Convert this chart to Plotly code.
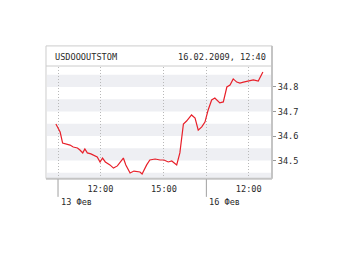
import plotly.graph_objects as go

# ---- data ----
times = [
    "13 09:54", "13 10:06", "13 10:13", "13 10:25", "13 10:34", "13 10:43", "13 10:55",
    "13 11:02", "13 11:10", "13 11:16", "13 11:23", "13 11:33", "13 11:42", "13 11:51",
    "13 11:59", "13 12:06", "13 12:14", "13 12:27", "13 12:37", "13 12:48", "13 13:05",
    "13 13:12", "13 13:24", "13 13:35", "13 13:52", "13 13:58", "13 14:11", "13 14:20",
    "13 14:35", "13 14:49", "13 15:00", "13 15:12", "13 15:22", "13 15:36", "13 15:45",
    "13 15:55", "13 16:04", "13 16:18", "13 16:28", "13 16:37", "13 16:47", "13 16:56",
    "16 10:05", "16 10:15", "16 10:24", "16 10:38", "16 10:48", "16 10:58", "16 11:07",
    "16 11:16", "16 11:26", "16 11:35", "16 11:45", "16 11:59", "16 12:13", "16 12:27",
    "16 12:32", "16 12:40",
]
rates = [
    34.649, 34.616, 34.571, 34.567, 34.563, 34.555, 34.551,
    34.543, 34.531, 34.547, 34.531, 34.527, 34.522, 34.514,
    34.494, 34.510, 34.494, 34.482, 34.469, 34.478, 34.510,
    34.482, 34.449, 34.457, 34.453, 34.445, 34.482, 34.502,
    34.506, 34.502, 34.502, 34.494, 34.498, 34.482, 34.531,
    34.649, 34.661, 34.686, 34.673, 34.624, 34.637, 34.657,
    34.706, 34.747, 34.755, 34.735, 34.739, 34.800, 34.808,
    34.833, 34.820, 34.816, 34.820, 34.824, 34.829, 34.824,
    34.837, 34.861,
]
title_left = "USDOOOUTSTOM"
title_right = "16.02.2009, 12:40"

x_tick_times = ["13 10:00", "13 12:00", "13 15:00", "16 10:00", "16 12:00"]
x_tick_text = ["", "12:00", "15:00", "", "12:00"]
day_starts = ["13 10:00", "16 10:00"]
day_labels = ["13 Фев", "16 Фев"]
y_ticks = [34.5, 34.6, 34.7, 34.8]
y_tick_text = ["34.5", "34.6", "34.7", "34.8"]
bands = [(34.40, 34.45), (34.50, 34.55), (34.60, 34.65), (34.70, 34.75), (34.80, 34.85)]

SESSION_OPEN = 10 * 60
SESSION_LEN = 7 * 60
DAY_ORDER = {"13": 0, "16": 1}


def session_hours(s):
    d, hm = s.split()
    h, m = hm.split(":")
    mins = int(h) * 60 + int(m) - SESSION_OPEN
    return (DAY_ORDER[d] * SESSION_LEN + mins) / 60.0


xs = [session_hours(t) for t in times]
x_ticks = [session_hours(t) for t in x_tick_times]
x_days = [session_hours(t) for t in day_starts]

FONT = "DejaVu Sans Mono"
FS = 8.6
TXT = "#2a2a2a"

fig = go.Figure()
fig.add_trace(go.Scatter(
    x=xs, y=rates, mode="lines",
    line=dict(color="#e8202a", width=1.2),
    hoverinfo="skip", showlegend=False,
))

shapes = []
for lo, hi in bands:
    shapes.append(dict(type="rect", xref="paper", yref="y", x0=0, x1=1, y0=lo, y1=hi,
                       fillcolor="#eeeff3", line=dict(width=0), layer="below"))
# outer frame with header
shapes.append(dict(type="rect", xref="paper", yref="paper", x0=-0.0045, x1=1.0045,
                   y0=-0.005, y1=1.19, line=dict(color="#cccccc", width=1),
                   fillcolor="rgba(0,0,0,0)", layer="above"))
shapes.append(dict(type="line", xref="paper", yref="paper", x0=-0.0045, x1=1.0045,
                   y0=1.009, y1=1.009, line=dict(color="#cccccc", width=1)))
shapes.append(dict(type="line", xref="paper", yref="paper", x0=-0.0045, x1=1.0045,
                   y0=-0.006, y1=-0.006, line=dict(color="#c4c4c4", width=2)))
shapes.append(dict(type="line", xref="paper", yref="paper", x0=1.0045, x1=1.0045,
                   y0=-0.006, y1=1.19, line=dict(color="#c4c4c4", width=2)))
for xd in x_days:
    shapes.append(dict(type="line", xref="x", yref="paper", x0=xd, x1=xd,
                       y0=-0.01, y1=-0.17, line=dict(color="#a0a0a0", width=1)))

annotations = [
    dict(text=title_left, xref="paper", yref="paper", x=0.027, y=1.09,
         xanchor="left", yanchor="middle", showarrow=False,
         font=dict(family=FONT, size=FS, color=TXT)),
    dict(text=title_right, xref="paper", yref="paper", x=0.985, y=1.09,
         xanchor="right", yanchor="middle", showarrow=False,
         font=dict(family=FONT, size=FS, color=TXT)),
]
for xd, lab in zip(x_days, day_labels):
    annotations.append(dict(text=lab, xref="x", yref="paper", x=xd, y=-0.215,
                            xanchor="left", yanchor="middle", xshift=1, showarrow=False,
                            font=dict(family=FONT, size=FS, color=TXT)))

fig.update_layout(
    width=340, height=255,
    margin=dict(l=47, r=69, t=67, b=77),
    paper_bgcolor="white", plot_bgcolor="white",
    shapes=shapes, annotations=annotations,
    showlegend=False,
    xaxis=dict(range=[-0.52, 10.05], tickvals=x_ticks, ticktext=x_tick_text,
               showgrid=True, gridcolor="#b8b8b8", griddash="1px,2px", gridwidth=1,
               zeroline=False, showline=False, ticks="outside", ticklen=3,
               tickcolor="rgba(0,0,0,0)",
               tickfont=dict(family=FONT, size=FS, color=TXT), fixedrange=True),
    yaxis=dict(range=[34.4286, 34.8816], side="right", tickvals=y_ticks,
               ticktext=y_tick_text, showgrid=False, zeroline=False, showline=False,
               ticks="outside", ticklen=4, tickcolor="#999999",
               tickfont=dict(family=FONT, size=FS, color=TXT), fixedrange=True),
)

fig.write_html("out.html")
